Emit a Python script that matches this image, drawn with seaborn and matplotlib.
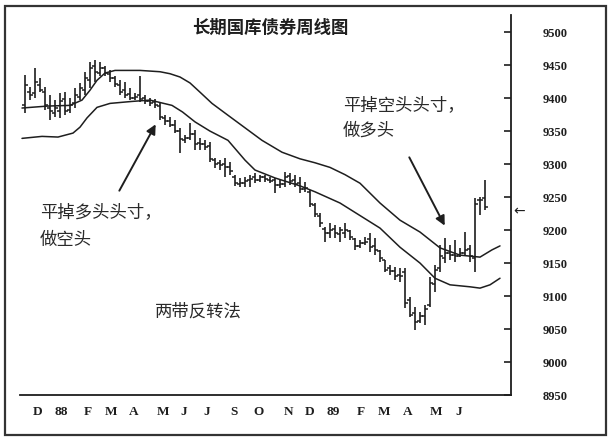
import matplotlib
matplotlib.use("Agg")
import matplotlib.pyplot as plt
import pandas as pd
import seaborn as sns
from matplotlib.patches import Rectangle

# weekly bars, Nov 1987 - Jul 1989 (T-bond futures, price x100)
highs = [9435, 9417, 9445, 9430, 9417, 9405, 9397, 9408, 9409, 9400,
         9415, 9423, 9439, 9455, 9458, 9455, 9448, 9442, 9434, 9427,
         9424, 9415, 9408, 9433, 9405, 9400, 9398, 9392, 9374, 9371,
         9367, 9355, 9344, 9362, 9351, 9339, 9336, 9333, 9309, 9306,
         9309, 9303, 9283, 9279, 9280, 9283, 9286, 9283, 9283, 9280,
         9279, 9276, 9288, 9286, 9283, 9280, 9273, 9261, 9241, 9226,
         9205, 9211, 9208, 9205, 9211, 9200, 9188, 9185, 9189, 9195,
         9188, 9170, 9155, 9147, 9144, 9142, 9142, 9098, 9083, 9076,
         9086, 9129, 9147, 9177, 9188, 9177, 9185, 9173, 9197, 9177,
         9248, 9250, 9276]
lows = [9377, 9397, 9400, 9409, 9382, 9367, 9371, 9370, 9374, 9377,
        9385, 9397, 9405, 9415, 9424, 9433, 9433, 9424, 9417, 9405,
        9400, 9397, 9397, 9394, 9391, 9388, 9385, 9367, 9359, 9356,
        9347, 9317, 9332, 9336, 9321, 9321, 9321, 9303, 9294, 9291,
        9280, 9283, 9267, 9265, 9265, 9265, 9271, 9273, 9273, 9271,
        9256, 9264, 9265, 9268, 9265, 9256, 9258, 9235, 9220, 9205,
        9182, 9188, 9188, 9182, 9188, 9185, 9170, 9173, 9177, 9167,
        9162, 9152, 9136, 9132, 9124, 9121, 9082, 9068, 9048, 9059,
        9056, 9083, 9106, 9136, 9150, 9155, 9152, 9159, 9162, 9152,
        9136, 9223, 9230]
opens = [9390, 9410, 9408, 9420, 9410, 9385, 9378, 9380, 9398, 9382,
         9392, 9402, 9412, 9428, 9448, 9438, 9446, 9436, 9430, 9420,
         9412, 9406, 9400, 9404, 9400, 9395, 9394, 9388, 9370, 9366,
         9360, 9350, 9336, 9340, 9346, 9332, 9330, 9328, 9306, 9302,
         9300, 9296, 9280, 9270, 9272, 9276, 9280, 9276, 9280, 9276,
         9276, 9268, 9270, 9282, 9276, 9272, 9262, 9258, 9238, 9222,
         9202, 9196, 9202, 9194, 9196, 9198, 9186, 9176, 9180, 9186,
         9176, 9168, 9154, 9142, 9138, 9132, 9136, 9094, 9074, 9062,
         9070, 9086, 9118, 9142, 9158, 9166, 9162, 9160, 9166, 9172,
         9158, 9245, 9248]
closes = [9420, 9405, 9425, 9412, 9390, 9380, 9385, 9395, 9380, 9390,
          9405, 9415, 9430, 9445, 9440, 9445, 9438, 9430, 9422, 9410,
          9405, 9400, 9402, 9398, 9396, 9392, 9390, 9372, 9365, 9360,
          9350, 9338, 9340, 9345, 9330, 9330, 9326, 9308, 9300, 9298,
          9295, 9290, 9272, 9272, 9275, 9278, 9276, 9280, 9277, 9275,
          9268, 9270, 9280, 9275, 9270, 9262, 9264, 9240, 9225, 9210,
          9195, 9200, 9195, 9200, 9200, 9190, 9176, 9180, 9182, 9175,
          9170, 9158, 9140, 9138, 9130, 9130, 9090, 9072, 9060, 9070,
          9080, 9120, 9140, 9160, 9165, 9162, 9160, 9165, 9170, 9160,
          9240, 9245, 9235]

# the two bands (read at week positions)
upper_wk = [-0.6, 4.6, 9, 11.4, 13, 14.4, 16, 18, 23, 27, 29, 31, 33, 35,
            37.4, 40.6, 44, 47.4, 51.4, 55, 58, 61, 64, 67, 71, 75, 79, 83,
            87, 91, 93.4, 95]
upper = [9385, 9388, 9389, 9397, 9412, 9427, 9438, 9442, 9442, 9440, 9437,
         9432, 9423, 9409, 9392, 9374, 9355, 9336, 9318, 9308, 9302, 9295,
         9284, 9271, 9241, 9215, 9197, 9173, 9162, 9159, 9170, 9176]
lower_wk = [-0.6, 3.4, 6.6, 9.6, 11, 12.4, 14.4, 17, 21.4, 25, 29.4, 31.5,
            34, 37, 40.6, 44, 46, 50, 55, 58, 63, 67, 71, 75, 79, 82, 85,
            89, 91, 93, 95]
lower = [9339, 9342, 9341, 9347, 9356, 9370, 9386, 9392, 9395, 9397, 9389,
         9379, 9364, 9350, 9336, 9306, 9291, 9279, 9267, 9258, 9241, 9222,
         9203, 9174, 9150, 9127, 9117, 9114, 9112, 9117, 9127]

month_pos = [2.6, 7.2, 12.6, 17.2, 21.8, 27.6, 31.8, 36.4, 41.8, 46.6, 52.6,
             57, 61.6, 67.2, 71.8, 76.6, 82.2, 86.8, 91]
month_labels = ["D", "88", "F", "M", "A", "M", "J", "J", "S", "O", "N",
                "D", "89", "F", "M", "A", "M", "J", ""]
price_ticks = list(range(8950, 9501, 50))

sns.set_style("white")
plt.rcParams["font.family"] = ["Noto Sans CJK SC", "DejaVu Sans"]
ink = "#1e1e1e"

df = pd.DataFrame({"wk": range(len(highs)), "high": highs, "low": lows,
                   "open": opens, "close": closes})
bands = pd.concat([
    pd.DataFrame({"wk": upper_wk, "price": upper, "band": "upper"}),
    pd.DataFrame({"wk": lower_wk, "price": lower, "band": "lower"}),
])

fig = plt.figure(figsize=(6.11, 4.41), dpi=100)
ax = fig.add_axes([20 / 611, 1 - 395 / 441, 491 / 611, 380 / 441])

sns.lineplot(data=bands, x="wk", y="price", units="band", estimator=None,
             color=ink, lw=1.1, ax=ax, sort=False)

ax.vlines(df["wk"], df["low"], df["high"], color=ink, lw=1.2)
ax.hlines(df["open"], df["wk"] - 0.55, df["wk"], color=ink, lw=1.1)
ax.hlines(df["close"], df["wk"], df["wk"] + 0.55, color=ink, lw=1.1)

ax.set_xlim(-1, 97.2)
ax.set_ylim(8950, 9526)
ax.set_xlabel("")
ax.set_ylabel("")

for s in ["left", "top"]:
    ax.spines[s].set_visible(False)
for s in ["right", "bottom"]:
    ax.spines[s].set_color(ink)
    ax.spines[s].set_linewidth(1.3)

ax.yaxis.tick_right()
ax.set_yticks(price_ticks)
ax.set_yticklabels([str(v) for v in price_ticks], family="Liberation Serif",
                   fontsize=9, fontweight="bold", color="#333")
ax.tick_params(axis="y", direction="in", length=5, width=1.2, pad=23,
               colors=ink, right=True, left=False)
ax.set_xticks(month_pos)
ax.set_xticklabels(month_labels, family="Liberation Serif", fontsize=9.5,
                   fontweight="bold", color="#333")
ax.tick_params(axis="x", direction="in", length=4, width=1.1, pad=8,
               colors=ink)

txt = dict(fontsize=12.5, color="#2a2a2a", va="center", ha="left")
ax.text(3, 9227, "平掉多头头寸，", **txt)
ax.text(3, 9185, "做空头", **txt)
ax.text(63.6, 9389, "平掉空头头寸，", **txt)
ax.text(63.6, 9350, "做多头", **txt)
ax.text(26, 9076, "两带反转法", **txt)

arrow = dict(arrowstyle="-|>", color=ink, lw=1.4, mutation_scale=14)
ax.annotate("", xy=(26.4, 9364), xytext=(18.6, 9256), arrowprops=arrow)
ax.annotate("", xy=(84.2, 9203), xytext=(76.6, 9314), arrowprops=arrow)

fig.text(270 / 611, 1 - 28 / 441, "长期国库债券周线图", ha="center",
         va="center", fontsize=12.5, fontweight="bold", color=ink)
fig.text(519 / 611, 1 - 211 / 441, "←", ha="center", va="center",
         fontsize=10, color=ink, family="DejaVu Sans")

fig.add_artist(Rectangle((5 / 611, 6 / 441), 601 / 611, 429 / 441,
                         transform=fig.transFigure, fill=False,
                         edgecolor="#333", lw=1.6))

fig.savefig("out.png", dpi=100)
